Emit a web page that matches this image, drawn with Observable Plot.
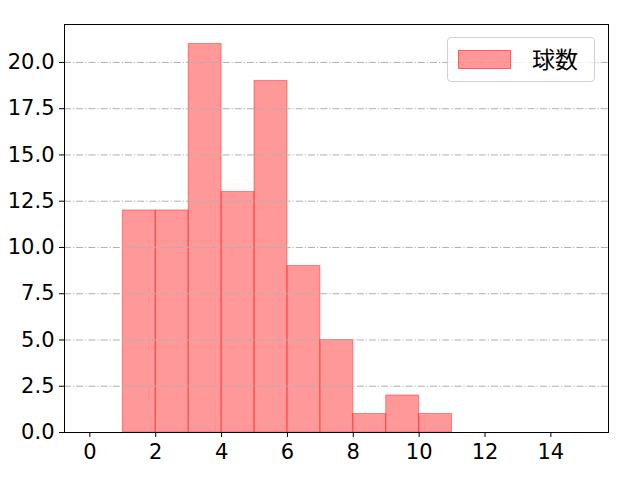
<!DOCTYPE html>
<html>
<head>
<meta charset="utf-8">
<script src="https://cdn.jsdelivr.net/npm/d3@7"></script>
<script src="https://cdn.jsdelivr.net/npm/@observablehq/plot@0.6"></script>
<style>
body { margin: 0; background: white; }
#wrap { position: relative; width: 640px; height: 480px; font-family: "Noto Sans CJK JP", sans-serif; }
#legend { position: absolute; left: 447px; top: 37px; width: 148px; height: 45px; box-sizing: border-box;
  border: 1px solid #d0d0d0; border-radius: 4px; background: rgba(255,255,255,0.8); }
#legend .sw { position: absolute; left: 10px; top: 12px; width: 53px; height: 19px; box-sizing: border-box;
  background: rgba(255,0,0,0.4); border: 1px solid rgba(255,0,0,0.4); }
#legend .lb { position: absolute; left: 84px; top: 5px; font-size: 23px; line-height: 30px; color: #000; }
</style>
</head>
<body>
<div id="wrap"><div id="legend"><div class="sw"></div><div class="lb">球数</div></div></div>
<script>
const binStart = [1, 2, 3, 4, 5, 6, 7, 8, 9, 10];
const binEnd   = [2, 3, 4, 5, 6, 7, 8, 9, 10, 11];
const counts   = [12, 12, 21, 13, 19, 9, 5, 1, 2, 1];
const xTicks = [0, 2, 4, 6, 8, 10, 12, 14];
const yTicks = [0, 2.5, 5, 7.5, 10, 12.5, 15, 17.5, 20];
const seriesName = "球数";

const data = binStart.map((s, i) => ({x1: s, x2: binEnd[i], y: counts[i]}));

const chart = Plot.plot({
  width: 640,
  height: 480,
  marginLeft: 64,
  marginRight: 32,
  marginTop: 24,
  marginBottom: 48,
  style: {fontFamily: "'DejaVu Sans', sans-serif", fontSize: "21px", color: "#000", background: "white"},
  x: {domain: [-0.77, 15.75], label: null},
  y: {domain: [0, 22.05], label: null},
  marks: [
    Plot.rectY(data, {x1: "x1", x2: "x2", y: "y", fill: "rgba(255,0,0,0.4)", stroke: "rgba(255,0,0,0.4)", strokeWidth: 1, inset: 0}),
    Plot.gridY(yTicks.filter(d => d > 0), {stroke: "#b0b0b0", strokeOpacity: 1, strokeWidth: 1, strokeDasharray: "7,2,1.2,2"}),
    Plot.axisX(xTicks, {tickSize: 5, tickPadding: 7, fontSize: 21, tickFormat: d => String(d), label: null}),
    Plot.axisY(yTicks, {tickSize: 5, tickPadding: 5, fontSize: 21, tickFormat: d => d.toFixed(1), label: null}),
    Plot.frame({stroke: "black", strokeWidth: 1})
  ]
});
document.getElementById("wrap").prepend(chart);
</script>
</body>
</html>
